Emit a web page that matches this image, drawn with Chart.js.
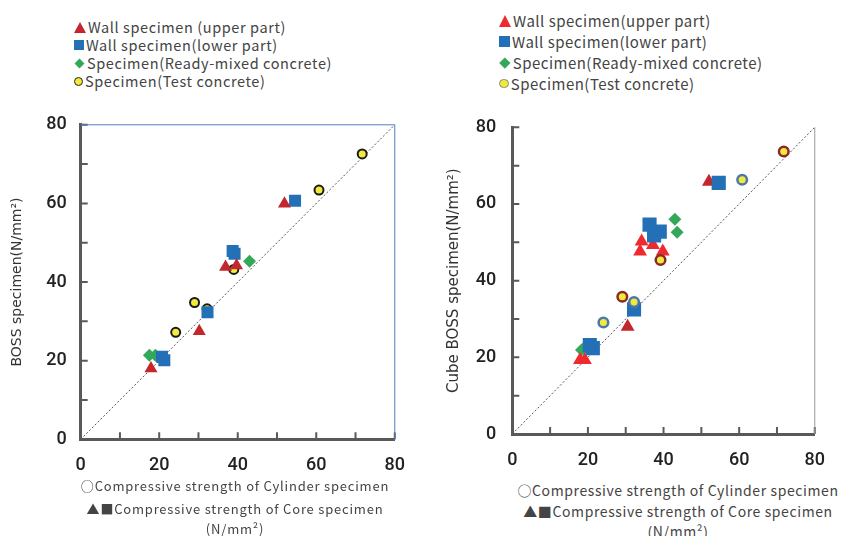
<!DOCTYPE html>
<html>
<head>
<meta charset="utf-8">
<script src="https://cdn.jsdelivr.net/npm/chart.js@4.4.1/dist/chart.umd.min.js"></script>
<style>
  body { margin: 0; background: #fff; width: 841px; height: 536px; position: relative; overflow: hidden; font-family: "Noto Sans CJK JP", "DejaVu Sans", sans-serif; }
  canvas { position: absolute; }
  .legend { position: absolute; color: #444; font-size: 14.5px; letter-spacing: 0.6px; }
  .legend .row { height: 18px; line-height: 18px; white-space: nowrap; display: flex; align-items: center; }
  .mk { display: inline-block; margin-right: 2px; flex: none; }
  .cap { position: absolute; color: #444; font-size: 13px; letter-spacing: 0.8px; text-align: center; white-space: nowrap; }
</style>
</head>
<body>
<div class="legend" id="legendLeft" style="left:74px; top:18px;"></div>
<div class="legend" id="legendRight" style="left:499px; top:10px; font-size:15px; letter-spacing:0.5px;"></div>
<canvas id="chartLeft" width="420" height="380" style="left:0; top:100px;"></canvas>
<canvas id="chartRight" width="421" height="380" style="left:420px; top:100px;"></canvas>

<div class="cap" style="left:55px; width:360px; top:476px;">○Compressive strength of Cylinder specimen</div>
<div class="cap" style="left:55px; width:360px; top:499px;">▲■Compressive strength of Core specimen</div>
<div class="cap" style="left:55px; width:360px; top:519px;">(N/mm²)</div>
<div class="cap" style="left:498px; width:360px; top:480px; font-size:14px; letter-spacing:0.6px;">○Compressive strength of Cylinder specimen</div>
<div class="cap" style="left:498px; width:360px; top:501px; font-size:14px; letter-spacing:0.6px;">▲■Compressive strength of Core specimen</div>
<div class="cap" style="left:498px; width:360px; top:521px; font-size:14px; letter-spacing:0.6px;">(N/mm²)</div>

<script>
// series names
const seriesNames = ["Wall specimen(upper part)", "Wall specimen(lower part)", "Specimen(Ready-mixed concrete)", "Specimen(Test concrete)"];
const seriesNamesLeft = ["Wall specimen (upper part)", "Wall specimen(lower part)", "Specimen(Ready-mixed concrete)", "Specimen(Test concrete)"];

// left chart: [core or cylinder strength, BOSS strength]
const leftUpper = [[51.9, 59.9], [36.9, 43.8], [39.7, 44.2], [30.2, 27.5], [17.9, 18.0]];
const leftLower = [[54.6, 60.7], [38.7, 47.9], [39.2, 47.2], [32.3, 32.3], [20.7, 21.0], [21.3, 20.1]];
const leftReady = [[43.0, 45.3], [17.5, 21.4], [19.0, 21.4]];
const leftTest = [[71.7, 72.6], [60.7, 63.4], [29.0, 34.8], [32.2, 33.2], [24.2, 27.2], [39.0, 43.2]];

// right chart: [core or cylinder strength, cube BOSS strength]
const rightUpper = [[52.0, 65.8], [30.5, 28.0], [34.2, 50.2], [37.2, 49.3], [33.8, 47.6], [39.8, 47.6], [17.9, 19.3], [19.2, 19.3]];
const rightUpperDark = [true, true, false, false, false, false, false, false];
const rightLower = [[54.6, 65.5], [36.3, 54.6], [39.0, 52.8], [37.5, 51.8], [32.2, 32.5], [20.5, 23.2], [21.3, 22.4]];
const rightReady = [[43.0, 56.0], [43.6, 52.6], [18.3, 21.9], [19.2, 22.6]];
const rightTest = [[71.8, 73.7], [60.8, 66.3], [39.2, 45.4], [29.1, 35.8], [32.2, 34.4], [24.1, 29.1]];
const rightTestRing = ["brown", "blue", "brown", "brown", "blue", "blue"];

// 1:1 line
const equalLine = [[0, 0], [80, 80]];

const RED = '#c3262c', RED_BRIGHT = '#ee2a2e', BLUE = '#2370b6', GREEN = '#34a85a', YELLOW = '#f2ea3a';
const RING = { brown: '#8a2b2b', blue: '#4a78ad' };
const TICK_FONT = { family: 'Roboto', size: 18, weight: '500' };

function pts(arr) {
    return arr.map(p => ({ x: p[0], y: p[1] }));
}

// legend in html
function buildLegend(id, names, big) {
    const el = document.getElementById(id);
    const s = big ? 1.1 : 1;
    const markers = [
        `<span class="mk" style="width:0;height:0;border-left:${6*s}px solid transparent;border-right:${6*s}px solid transparent;border-bottom:${11*s}px solid ${big ? RED_BRIGHT : RED};"></span>`,
        `<span class="mk" style="width:${10*s}px;height:${10*s}px;background:${BLUE};"></span>`,
        `<span class="mk" style="width:${7*s}px;height:${7*s}px;background:${GREEN};transform:rotate(45deg);margin-left:2px;margin-right:4px;"></span>`,
        `<span class="mk" style="width:${7*s}px;height:${7*s}px;background:${YELLOW};border:1.5px solid ${big ? '#888' : '#222'};border-radius:50%;"></span>`
    ];
    names.forEach((n, i) => {
        const row = document.createElement('div');
        row.className = 'row';
        if (big) { row.style.height = '21px'; row.style.lineHeight = '21px'; }
        row.innerHTML = markers[i] + '<span>' + n + '</span>';
        el.appendChild(row);
    });
}
buildLegend('legendLeft', seriesNamesLeft, false);
buildLegend('legendRight', seriesNames, true);

// tick marks drawn inside the plot, plus the thin frame lines
const innerTicks = {
    id: 'innerTicks',
    afterDatasetsDraw(chart, args, opts) {
        const { ctx, chartArea: a, scales: { x, y } } = chart;
        ctx.save();
        ctx.strokeStyle = '#595959';
        ctx.lineWidth = 2;
        ctx.beginPath();
        x.ticks.forEach(t => {
            const px = x.getPixelForValue(t.value);
            ctx.moveTo(px, a.bottom);
            ctx.lineTo(px, a.bottom - opts.len);
        });
        y.ticks.forEach(t => {
            const py = y.getPixelForValue(t.value);
            ctx.moveTo(a.left, py);
            ctx.lineTo(a.left + opts.len, py);
        });
        ctx.stroke();
        ctx.strokeStyle = opts.frame;
        ctx.lineWidth = 1;
        ctx.beginPath();
        if (opts.top) {
            ctx.moveTo(a.left, a.top);
            ctx.lineTo(a.right, a.top);
        }
        ctx.moveTo(a.right, a.top);
        ctx.lineTo(a.right, a.bottom);
        ctx.stroke();
        ctx.restore();
    }
};

function makeChart(canvasId, sets, cfg) {
    const ctx = document.getElementById(canvasId).getContext('2d');
    return new Chart(ctx, {
        type: 'scatter',
        data: {
            datasets: sets.concat([{
                label: '1:1',
                data: pts(equalLine),
                showLine: true,
                borderColor: '#555',
                borderWidth: 1,
                borderDash: [2, 2],
                pointRadius: 0,
                order: 10
            }])
        },
        options: {
            responsive: false,
            animation: false,
            layout: { padding: { top: cfg.top, right: cfg.right, left: 0, bottom: 0 } },
            plugins: {
                legend: { display: false },
                tooltip: { enabled: false },
                innerTicks: { len: 7, frame: cfg.frame, top: cfg.frameTop }
            },
            scales: {
                x: {
                    type: 'linear',
                    min: 0, max: 80,
                    grid: { display: false, drawTicks: false },
                    border: { color: '#595959', width: 3 },
                    ticks: {
                        stepSize: 10,
                        padding: cfg.xPad,
                        color: '#222',
                        font: TICK_FONT,
                        maxRotation: 0,
                        callback: v => (v % 20 === 0 ? v : '')
                    },
                    afterFit: s => { s.height = cfg.xHeight; }
                },
                y: {
                    min: 0, max: 80,
                    grid: { display: false, drawTicks: false },
                    border: { color: '#595959', width: 3 },
                    ticks: {
                        stepSize: 10,
                        padding: cfg.yPad,
                        color: '#222',
                        font: TICK_FONT,
                        callback: v => (v % 20 === 0 ? v : '')
                    },
                    title: {
                        display: true,
                        text: cfg.yTitle,
                        color: '#333',
                        padding: { top: cfg.titlePad, bottom: 0 },
                        font: { family: 'DejaVu Sans', size: cfg.titleSize }
                    },
                    afterFit: s => { s.width = cfg.yWidth; }
                }
            }
        },
        plugins: [innerTicks]
    });
}

makeChart('chartLeft', [
    { label: seriesNamesLeft[0], data: pts(leftUpper), pointStyle: 'triangle', pointRadius: 7.5, backgroundColor: RED, borderWidth: 0, order: 1 },
    { label: seriesNamesLeft[1], data: pts(leftLower), pointStyle: 'rect', pointRadius: 8.5, backgroundColor: BLUE, borderWidth: 0, order: 2 },
    { label: seriesNamesLeft[2], data: pts(leftReady), pointStyle: 'rectRot', pointRadius: 6.5, backgroundColor: GREEN, borderWidth: 0, order: 3 },
    { label: seriesNamesLeft[3], data: pts(leftTest), pointStyle: 'circle', pointRadius: 4.5, backgroundColor: YELLOW, borderColor: '#1a1a1a', borderWidth: 2, order: 4 }
], { top: 24, right: 19.3, xHeight: 40.7, yWidth: 80.7, xPad: 15, yPad: 14, titlePad: 9, titleSize: 14, yTitle: 'BOSS specimen(N/mm²)', frame: '#4f7fbd', frameTop: true });

makeChart('chartRight', [
    { label: seriesNames[0], data: pts(rightUpper), pointStyle: 'triangle', pointRadius: 8, backgroundColor: rightUpperDark.map(d => (d ? RED : RED_BRIGHT)), borderWidth: 0, order: 3 },
    { label: seriesNames[1], data: pts(rightLower), pointStyle: 'rect', pointRadius: 10, backgroundColor: BLUE, borderWidth: 0, order: 2 },
    { label: seriesNames[2], data: pts(rightReady), pointStyle: 'rectRot', pointRadius: 6.5, backgroundColor: GREEN, borderWidth: 0, order: 4 },
    { label: seriesNames[3], data: pts(rightTest), pointStyle: 'circle', pointRadius: 4.8, backgroundColor: YELLOW, borderColor: rightTestRing.map(r => RING[r]), borderWidth: 2.5, order: 1 }
], { top: 27.3, right: 18.3, xHeight: 46, yWidth: 92.3, xPad: 16, yPad: 16, titlePad: 25, titleSize: 15, yTitle: 'Cube BOSS specimen(N/mm²)', frame: '#9a9a9a', frameTop: false });
</script>
</body>
</html>
